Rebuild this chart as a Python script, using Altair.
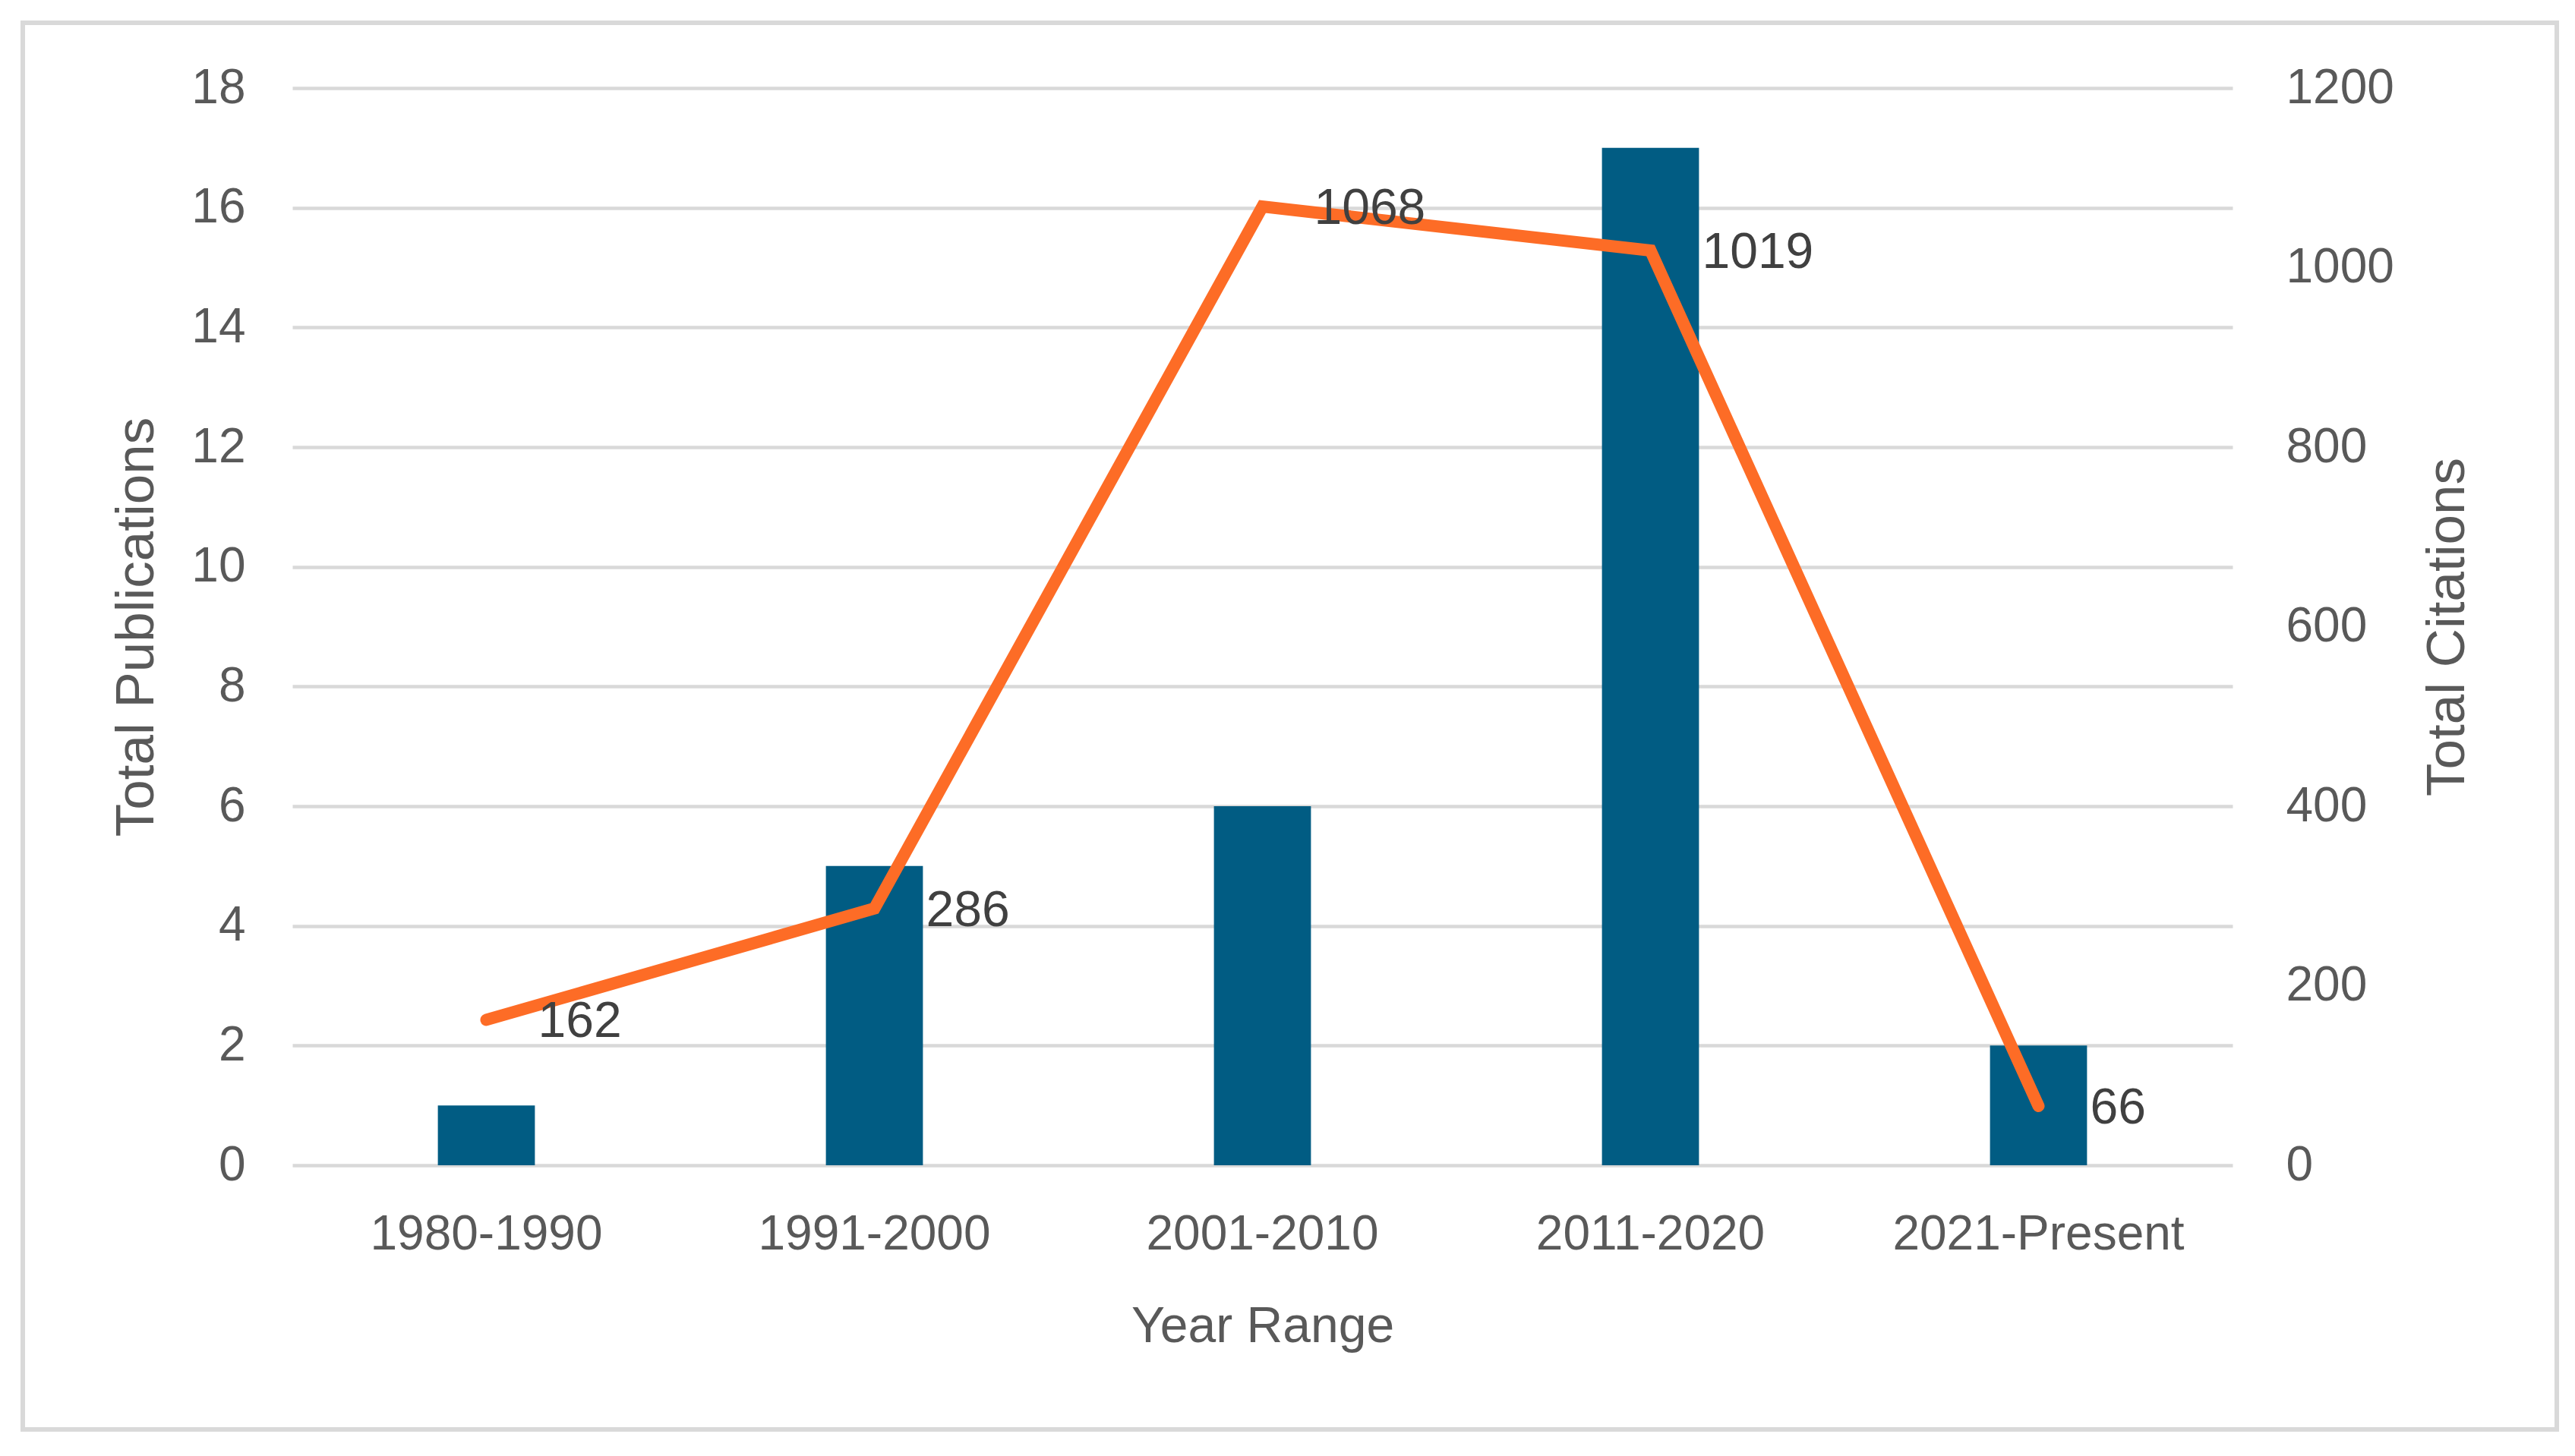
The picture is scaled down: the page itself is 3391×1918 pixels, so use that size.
import altair as alt
import pandas as pd

categories = ["1980-1990", "1991-2000", "2001-2010", "2011-2020", "2021-Present"]
publications = [1, 5, 6, 17, 2]
citations = [162, 286, 1068, 1019, 66]

df = pd.DataFrame({"Year Range": categories, "Publications": publications, "Citations": citations})

FONT = "Liberation Sans"
GRAY = "#595959"
W, H = 2555, 1419

x_enc = alt.X(
    "Year Range:N", sort=None,
    scale=alt.Scale(paddingInner=0.75, paddingOuter=0.375),
    axis=alt.Axis(title="Year Range", labelAngle=0, labelFontSize=64, labelFont=FONT,
                  labelColor=GRAY, labelBaseline="alphabetic", labelPadding=110, labelLimit=0,
                  ticks=False, domain=False, grid=False,
                  titleFont=FONT, titleFontSize=66, titleFontWeight="normal", titleColor=GRAY,
                  titleBaseline="alphabetic", titleAlign="center", titleX=W / 2, titleY=232),
)

bars = alt.Chart(df).mark_bar(color="#015C83").encode(
    x=x_enc,
    y=alt.Y("Publications:Q", scale=alt.Scale(domain=[0, 18], nice=False),
            axis=alt.Axis(orient="left", title="Total Publications", values=list(range(0, 19, 2)),
                          labelFontSize=64, labelFont=FONT, labelColor=GRAY, labelPadding=62,
                          ticks=False, domain=False, grid=True, gridColor="#D9D9D9", gridWidth=4.5,
                          titleFont=FONT, titleFontSize=71, titleFontWeight="normal", titleColor=GRAY,
                          titleAngle=270, titleAlign="center", titleBaseline="middle",
                          titleX=-205, titleY=H / 2)),
)

y_cit = alt.Y("Citations:Q", scale=alt.Scale(domain=[0, 1200], nice=False),
              axis=alt.Axis(orient="right", title="Total Citations", values=list(range(0, 1201, 200)),
                            format="d",
                            labelFontSize=64, labelFont=FONT, labelColor=GRAY, labelPadding=70,
                            labelAlign="left",
                            ticks=False, domain=False, grid=False,
                            titleFont=FONT, titleFontSize=71, titleFontWeight="normal", titleColor=GRAY,
                            titleAngle=270, titleAlign="center", titleBaseline="middle",
                            titleX=283, titleY=H / 2))

line = alt.Chart(df).mark_line(color="#FD6C26", strokeWidth=16, strokeCap="round").encode(
    x=alt.X("Year Range:N", sort=None), y=y_cit
)
labels = alt.Chart(df).mark_text(align="left", baseline="alphabetic", dx=68, dy=23,
                                 fontSize=66, font=FONT, color="#404040").encode(
    x=alt.X("Year Range:N", sort=None), y=y_cit, text=alt.Text("Citations:Q", format="d")
)
cit_layer = alt.layer(line, labels)

frame = alt.Chart(df).mark_rect(filled=False, stroke="#D9D9D9", strokeWidth=6).encode(
    x=alt.value(-355), x2=alt.value(2982), y=alt.value(-86), y2=alt.value(1767)
)

chart = alt.layer(bars, cit_layer, frame).resolve_scale(y="independent").properties(
    width=W, height=H,
    autosize=alt.AutoSizeParams(type="none"),
    padding={"left": 377, "top": 108, "right": 443, "bottom": 375},
    background="white",
).configure_view(stroke=None)

chart.save("out.html", embed_options={"renderer": "svg", "actions": False})
